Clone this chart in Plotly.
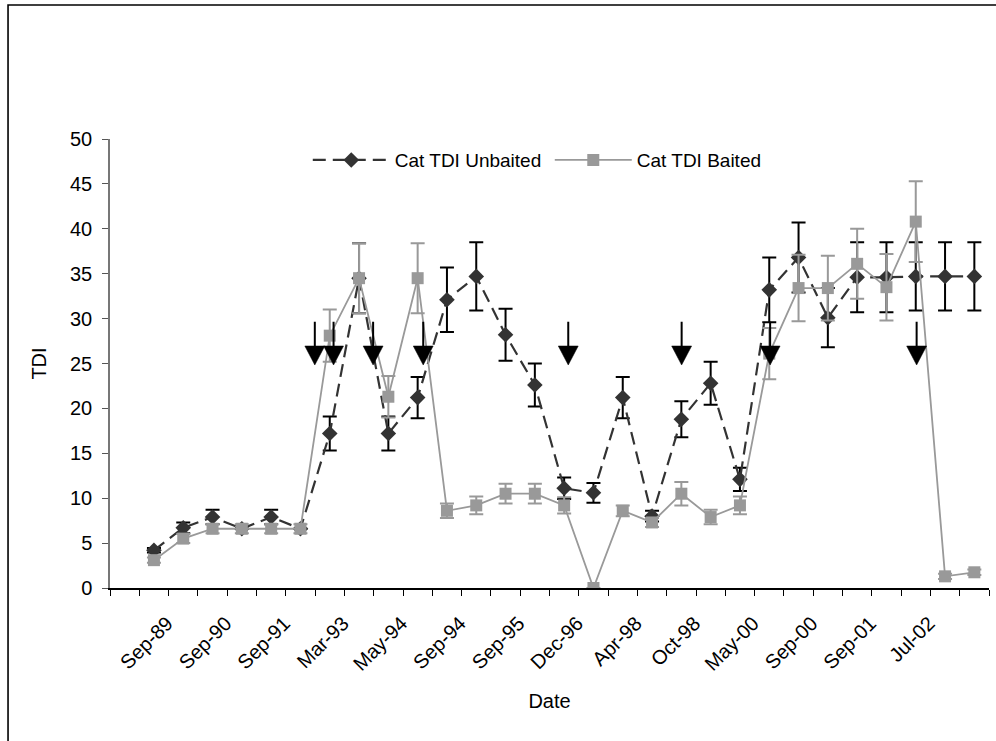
import plotly.graph_objects as go

# ---- data ----
n_cat = 30
tick_labels = ["Sep-89", "Sep-90", "Sep-91", "Mar-93", "May-94", "Sep-94", "Sep-95",
               "Dec-96", "Apr-98", "Oct-98", "May-00", "Sep-00", "Sep-01", "Jul-02"]
tick_index = [1, 3, 5, 7, 9, 11, 13, 15, 17, 19, 21, 23, 25, 27]

unbaited = [None, 4.2, 6.7, 7.9, 6.6, 7.9, 6.6, 17.2, 34.5, 17.2, 21.2, 32.1, 34.7, 28.2, 22.6,
            11.1, 10.6, 21.2, 8.0, 18.8, 22.8, 12.1, 33.2, 36.8, 30.1, 34.6, 34.6, 34.7, 34.7, 34.7]
unbaited_err = [None, 0.25, 0.6, 0.8, 0.0, 0.8, 0.0, 1.9, 3.9, 1.9, 2.3, 3.6, 3.8, 2.9, 2.4,
                1.2, 1.1, 2.3, 0.6, 2.0, 2.4, 1.3, 3.6, 3.9, 3.3, 3.9, 3.9, 3.8, 3.8, 3.8]

baited = [None, 3.1, 5.5, 6.6, 6.6, 6.6, 6.6, 28.1, 34.5, 21.3, 34.5, 8.6, 9.2, 10.5, 10.5,
          9.2, 0.0, 8.6, 7.3, 10.5, 7.9, 9.2, 26.1, 33.4, 33.4, 36.1, 33.5, 40.8, 1.3, 1.75]
baited_err = [None, 0.3, 0.5, 0.5, 0.5, 0.5, 0.5, 2.9, 3.9, 2.3, 3.9, 0.8, 1.0, 1.1, 1.1,
              0.9, 0.0, 0.6, 0.5, 1.3, 0.8, 1.0, 2.85, 3.7, 3.6, 3.9, 3.7, 4.5, 0.3, 0.3]

# baiting events (arrow positions, in category units)
arrow_x = [6.49, 7.13, 8.48, 10.19, 15.14, 19.01, 22.03, 27.03]

x_idx = list(range(n_cat))

FONT = "Liberation Sans, Arial, sans-serif"
FS_TICK = 20
FS_TITLE = 20
FS_LEG = 19
LABEL_SHIFT = 0.45  # Excel-style anchoring of rotated category labels

fig = go.Figure()
fig.add_trace(go.Scatter(
    x=x_idx, y=unbaited, name="Cat TDI Unbaited", mode="lines+markers",
    line=dict(color="#333333", width=2.2, dash="13px,7px"),
    marker=dict(symbol="diamond", size=12, color="#333333"),
    error_y=dict(type="data", array=unbaited_err, color="#000000", thickness=2, width=7),
))
fig.add_trace(go.Scatter(
    x=x_idx, y=baited, name="Cat TDI Baited", mode="lines+markers",
    line=dict(color="#999999", width=1.8),
    marker=dict(symbol="square", size=12, color="#999999"),
    error_y=dict(type="data", array=baited_err, color="#999999", thickness=2, width=7),
))

# arrows (stem + triangular head) in data coordinates
STEM_TOP, HEAD_TOP, HEAD_TIP, HALF_W = 29.65, 26.95, 24.83, 0.34
shapes = []
for ax in arrow_x:
    shapes.append(dict(type="line", xref="x", yref="y", x0=ax, x1=ax, y0=STEM_TOP, y1=HEAD_TOP - 0.5,
                       line=dict(color="black", width=2)))
    shapes.append(dict(type="path", xref="x", yref="y",
                       path=f"M {ax - HALF_W},{HEAD_TOP} L {ax + HALF_W},{HEAD_TOP} L {ax},{HEAD_TIP} Z",
                       fillcolor="black", line=dict(color="black", width=0.5)))

# outer chart border (right/bottom edges fall outside the picture)
shapes.append(dict(type="rect", xref="paper", yref="paper", x0=-0.116, x1=1.05, y0=-0.4, y1=1.2985,
                   line=dict(color="black", width=1.6), layer="below"))

fig.update_layout(
    width=996, height=741,
    margin=dict(l=110, r=7, t=139, b=153),
    paper_bgcolor="white", plot_bgcolor="white",
    font=dict(family=FONT, size=FS_TICK, color="black"),
    shapes=shapes,
    showlegend=True,
    legend=dict(orientation="h", x=0.225, y=0.953, xanchor="left", yanchor="middle",
                itemwidth=77, bgcolor="rgba(0,0,0,0)", font=dict(size=FS_LEG),
                entrywidth=150, tracegroupgap=0),
    xaxis=dict(
        range=[-0.5, n_cat - 0.5], tickmode="array",
        tickvals=[i + LABEL_SHIFT for i in tick_index], ticktext=tick_labels,
        tickangle=-45, ticks="", ticklabelstandoff=14,
        showline=True, linecolor="black", linewidth=1.5,
        showgrid=False, zeroline=False, tickfont=dict(size=FS_TICK),
        minor=dict(tickmode="linear", tick0=-0.5, dtick=1, ticks="outside", ticklen=6,
                   tickcolor="black", tickwidth=1.2, showgrid=False),
        title=dict(text="Date", standoff=20, font=dict(size=FS_TITLE)),
    ),
    yaxis=dict(
        range=[0, 50], dtick=5, ticks="outside", ticklen=6, tickcolor="#555555",
        ticklabelstandoff=6, tickfont=dict(size=FS_TICK),
        showline=True, linecolor="#777777", linewidth=1.5, showgrid=False, zeroline=False,
        title=dict(text="TDI", standoff=18, font=dict(size=FS_TITLE)),
    ),
)

fig.write_html("out.html")
